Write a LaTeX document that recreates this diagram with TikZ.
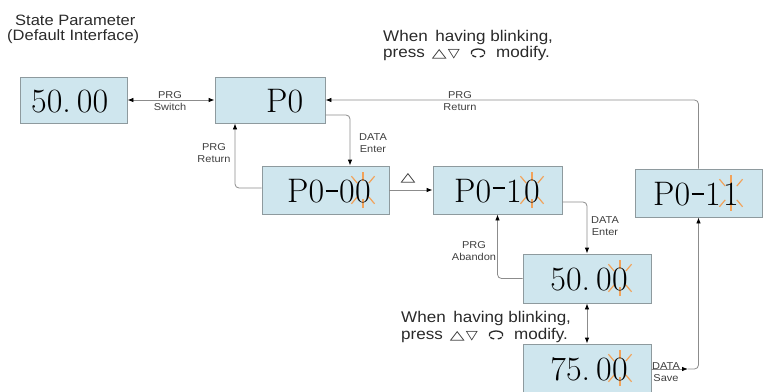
\documentclass[tikz,border=0pt]{standalone}
\usepackage{fontspec}
\setsansfont{Liberation Sans}
\newfontfamily\bigf[FakeStretch=1.1]{Liberation Sans}
\newfontfamily\labf[FakeStretch=1.1]{Liberation Sans}
\newfontfamily\symf{DejaVu Sans}
\usetikzlibrary{arrows.meta,calc}
\definecolor{boxfill}{HTML}{CFE6EE}
\definecolor{boxline}{HTML}{8E9A9E}
\definecolor{wire}{HTML}{8C8C8C}
\definecolor{blink}{HTML}{F2A25A}
\definecolor{inkc}{HTML}{2A2A2A}
\newcommand{\dsh}[1]{\kern1.5pt\rule[#1]{12pt}{1.6pt}\kern1.5pt}
\newcommand{\tup}{{\symf\fontsize{12.5}{12.5}\selectfont\scalebox{1.55}[1]{△}}}
\newcommand{\tdn}{{\symf\fontsize{12.5}{12.5}\selectfont\scalebox{1.25}[1]{▽}}}
\begin{document}
\begin{tikzpicture}[x=1pt,y=-1pt,
  box/.style={draw=boxline,fill=boxfill,line width=0.8pt,inner sep=0pt},
  dig/.style={font=\fontsize{34}{34}\selectfont,text=black,inner sep=0pt},
  wirel/.style={draw=wire,line width=0.8pt,rounded corners=4pt},
  arr/.style={wirel,-{Latex[length=6pt,width=4.5pt,color=black]}},
  dbl/.style={wirel,{Latex[length=6pt,width=4.5pt,color=black]}-{Latex[length=6pt,width=4.5pt,color=black]}},
  lab/.style={font=\labf\fontsize{10}{12}\selectfont,text=inkc!90,align=center,inner sep=0pt},
  big/.style={font=\bigf\fontsize{15.5}{17}\selectfont,text=inkc,inner sep=0pt,anchor=base west},
  ray/.style={draw=blink,line width=1.2pt},
  sparkle/.pic={\foreach \a in {90,270,50,130,230,310}{\draw[ray] (\a:9) -- (\a:18);}},
  loopsym/.pic={
    \draw[inkc,line width=1.3pt] ([shift={(160:7 and 4)}]7,-4) arc[start angle=160,end angle=380,x radius=7,y radius=4];
    \draw[inkc,line width=1.3pt] ([shift={(145:7 and 4)}]7,-4) arc[start angle=145,end angle=105,x radius=7,y radius=4];
    \draw[inkc,line width=1.3pt] ([shift={(75:7 and 4)}]7,-4) arc[start angle=75,end angle=35,x radius=7,y radius=4];}
]
\useasboundingbox (0,0) rectangle (763,391);

% boxes
\node[box,minimum width=107pt,minimum height=46pt] (A) at (73.5,100) {};
\node[box,minimum width=110pt,minimum height=46pt] (B) at (270,100) {};
\node[box,minimum width=127pt,minimum height=48pt] (C) at (325.5,190) {};
\node[box,minimum width=129pt,minimum height=48pt] (D) at (497.5,190) {};
\node[box,minimum width=127pt,minimum height=48pt] (E) at (698.5,193) {};
\node[box,minimum width=128pt,minimum height=49pt] (F) at (587,278.5) {};
\node[box,minimum width=128pt,minimum height=50pt] (G) at (587,369) {};

% blinking marks
\pic at (363,190) {sparkle};
\pic at (532,190) {sparkle};
\pic at (731,193) {sparkle};
\pic at (620,278) {sparkle};
\pic at (620,368) {sparkle};

% display texts
\node[dig,anchor=base west] (At) at (31,112) {50.\kern6pt 00};
\node[dig,anchor=base west] (Bt) at (266,112) {P0};
\node[dig,anchor=base] (Cl) at (363,202) {0};
\node[dig,anchor=base east] (Ct) at (Cl.base west) {P0\dsh{10pt}0};
\node[dig,anchor=base] (Dl) at (532,202) {0};
\node[dig,anchor=base east] (Dt) at (Dl.base west) {P0\dsh{13pt}1\kern2pt};
\node[dig,anchor=base] (El) at (731,205) {1};
\node[dig,anchor=base east] (Et) at (El.base west) {P0\dsh{10pt}1\kern2pt};
\node[dig,anchor=base] (Fl) at (620,290) {0};
\node[dig,anchor=base east] (Ft) at (Fl.base west) {50.\kern6pt 0};
\node[dig,anchor=base] (Gl) at (620,380) {0};
\node[dig,anchor=base east] (Gt) at (Gl.base west) {75.\kern6pt 0};

% connectors
\draw[dbl] (A.east) -- (B.west);
\draw[arr] (E.north) |- (B.east);
\draw[arr] ($(B.east)+(0,15)$) -| ($(C.north)+(24.5,0)$);
\draw[arr] ($(C.west)+(0,-2)$) -| ($(B.south)+(-35,0)$);
\draw[arr] (C.east) -- (D.west);
\draw[arr] ($(D.east)+(0,12)$) -| (F.north);
\draw[arr] (F.west) -| (D.south);
\draw[dbl] (F.south) -- (G.north);
\coordinate (gs) at (688,369);
\draw[arr] (G.east) -- (gs);
\draw[arr] (gs) -| (E.south);

% connector labels
\node[lab] (l1) at (170,101) {PRG\\Switch};
\node[lab] (l2) at (460,101) {PRG\\Return};
\node[lab] (l3) at (373,143) {DATA\\Enter};
\node[lab] (l4) at (214,153) {PRG\\Return};
\node[inner sep=0pt,text=inkc] (l5) at (408,178) {\tup};
\node[lab] (l6) at (605,226) {DATA\\Enter};
\node[lab] (l7) at (474,251) {PRG\\Abandon};
\node[lab] (l8) at (666,372) {DATA\\Save};

% free texts
\node[big,font=\bigf\fontsize{15}{17}\selectfont] (t1) at (15,25.5) {State Parameter};
\node[big,font=\bigf\fontsize{15}{17}\selectfont] (t2) at (7,40) {(Default Interface)};
\node[big] (t3) at (383,41) {When\hspace{3pt} having blinking,};
\node[big] (t4) at (383,57) {press\kern7pt\tup\kern1pt\tdn};
\pic at ($(t4.base east)+(11,0)$) {loopsym};
\node[big] (t4b) at ($(t4.base east)+(36,0)$) {modify.};
\node[big] (t5) at (401,322) {When\hspace{3pt} having blinking,};
\node[big] (t6) at (401,339) {press\kern7pt\tup\kern1pt\tdn};
\pic at ($(t6.base east)+(11,0)$) {loopsym};
\node[big] (t6b) at ($(t6.base east)+(36,0)$) {modify.};
\end{tikzpicture}
\end{document}
